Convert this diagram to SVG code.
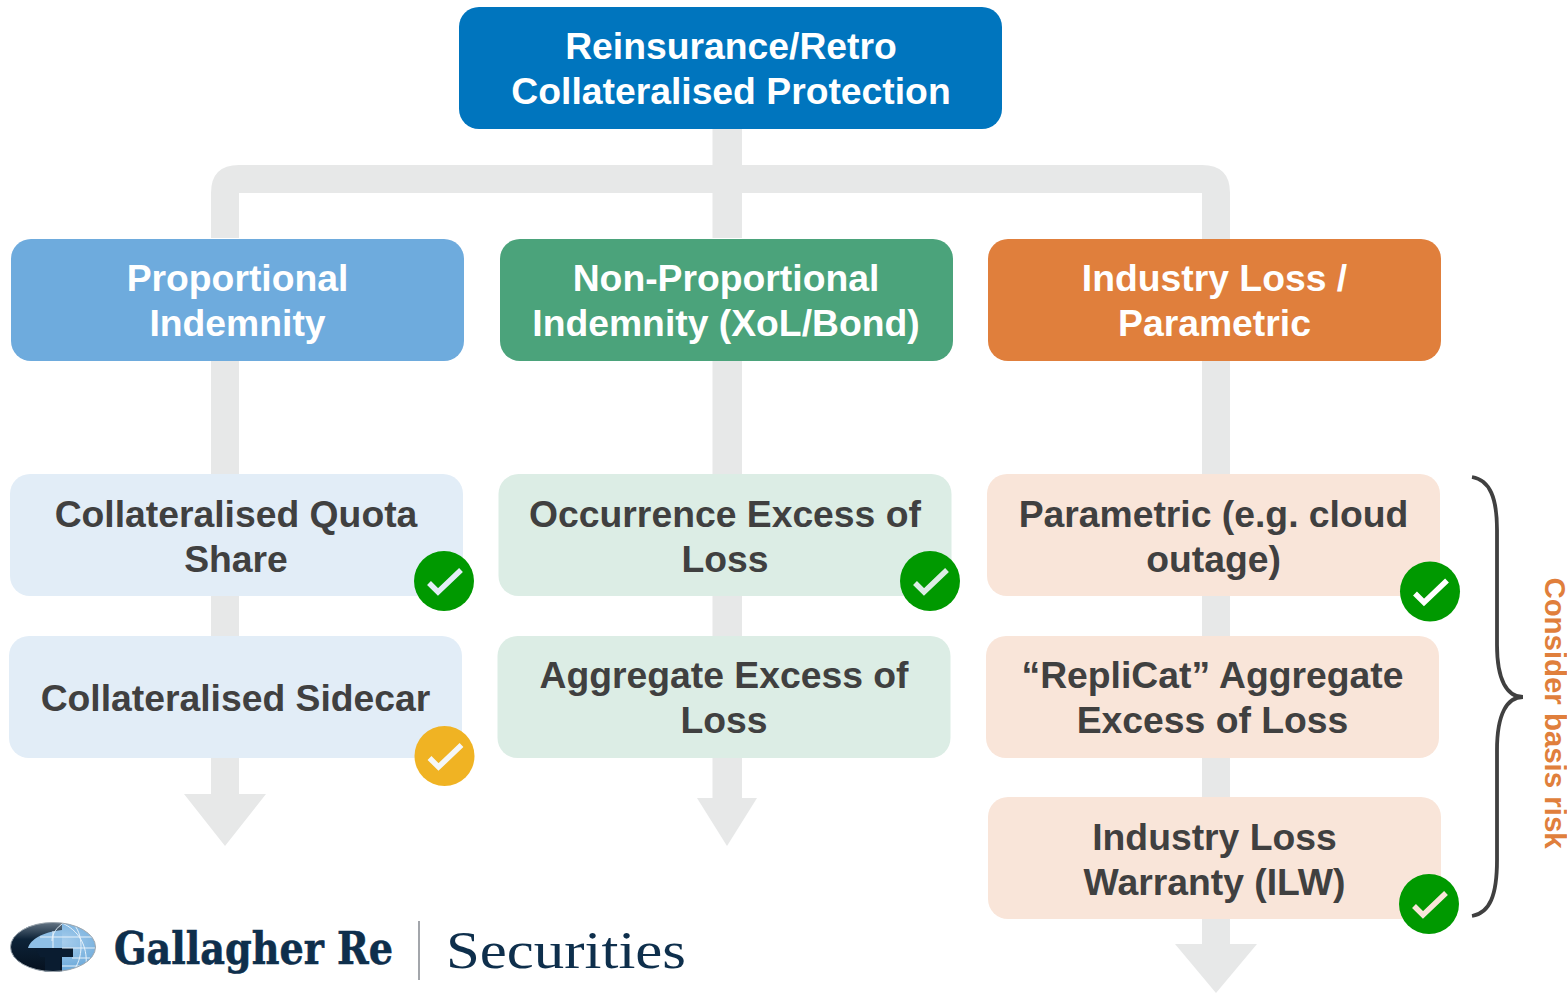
<svg xmlns="http://www.w3.org/2000/svg" width="1567" height="993" viewBox="0 0 1567 993">
<style>
text{font-family:"Liberation Sans",Arial,sans-serif;font-weight:700;font-size:37.300px;text-anchor:middle}
.w{fill:#fff}.d{fill:#404040}
.flow{fill:#e7e8e8}
.chk{fill:none;stroke-width:5.500}
.g{fill:#009900}.y{fill:#f0b323}
</style>
<defs>
<radialGradient id="globe" cx="0.6" cy="0.4" r="0.7"><stop offset="0" stop-color="#a9cfee"/><stop offset="1" stop-color="#5c9fd4"/></radialGradient>
<linearGradient id="dark" x1="0" y1="0" x2="0" y2="1"><stop offset="0" stop-color="#6f7f8e"/><stop offset="0.35" stop-color="#0d2338"/><stop offset="1" stop-color="#050f1c"/></linearGradient>
<clipPath id="oval"><ellipse cx="53" cy="947" rx="42.500" ry="24.500"/></clipPath>
</defs>
<g id="connectors">
<path class="flow" d="M712.500 128H742V165H1202Q1230 165 1230 193V474H1202V193H742V238H712.500V193H239V238H211V193Q211 165 239 165H712.500Z"/>
<path class="flow" d="M211 361H239V794H266L225 846L184 794H211Z"/>
<path class="flow" d="M712.500 361H742V798H757L727 846L697 798H712.500Z"/>
<path class="flow" d="M1202 361H1230V944H1257L1216 993L1175 944H1202Z"/>
</g>
<g id="n-root"><rect x="459" y="7" width="543" height="122" rx="20" fill="#0075be"/><text class="w" x="731" y="59">Reinsurance/Retro</text><text class="w" x="731" y="104">Collateralised Protection</text></g>
<g id="n-prop"><rect x="11" y="239" width="453" height="122" rx="20" fill="#6eabdd"/><text class="w" x="237.500" y="291">Proportional</text><text class="w" x="237.500" y="336">Indemnity</text></g>
<g id="n-nonprop"><rect x="500" y="239" width="453" height="122" rx="20" fill="#4ba37b"/><text class="w" x="726" y="291">Non-Proportional</text><text class="w" x="726" y="336">Indemnity (XoL/Bond)</text></g>
<g id="n-ind"><rect x="988" y="239" width="453" height="122" rx="20" fill="#e07f3c"/><text class="w" x="1214.500" y="291">Industry Loss /</text><text class="w" x="1214.500" y="336">Parametric</text></g>
<g id="n-quota"><rect x="10" y="474" width="453" height="122" rx="20" fill="#e2edf7"/><text class="d" x="236" y="527">Collateralised Quota</text><text class="d" x="236" y="572">Share</text><circle class="g" cx="444" cy="581" r="30"/><path class="chk" stroke="#e2edf7" d="M429 583L438 592L461 570"/></g>
<g id="n-sidecar"><rect x="9" y="636" width="453" height="122" rx="20" fill="#e2edf7"/><text class="d" x="235.500" y="711">Collateralised Sidecar</text><circle class="y" cx="444.500" cy="756" r="30"/><path class="chk" stroke="#f5f7f8" d="M429.500 758L438.500 767L461.500 745"/></g>
<g id="n-occ"><rect x="498.500" y="474" width="453" height="122" rx="20" fill="#dcede5"/><text class="d" x="725" y="527">Occurrence Excess of</text><text class="d" x="725" y="572">Loss</text><circle class="g" cx="930" cy="581" r="30"/><path class="chk" stroke="#dcede5" d="M915 583L924 592L947 570"/></g>
<g id="n-agg"><rect x="497.500" y="636" width="453" height="122" rx="20" fill="#dcede5"/><text class="d" x="724" y="688">Aggregate Excess of</text><text class="d" x="724" y="733">Loss</text></g>
<g id="n-param"><rect x="987" y="474" width="453" height="122" rx="20" fill="#f9e5d9"/><text class="d" x="1213.500" y="527">Parametric (e.g. cloud</text><text class="d" x="1213.500" y="572">outage)</text><circle class="g" cx="1430" cy="591.500" r="30"/><path class="chk" stroke="#ffffff" d="M1415 593.500L1424 602.500L1447 580.500"/></g>
<g id="n-replicat"><rect x="986" y="636" width="453" height="122" rx="20" fill="#f9e5d9"/><text class="d" x="1212.500" y="688">“RepliCat” Aggregate</text><text class="d" x="1212.500" y="733">Excess of Loss</text></g>
<g id="n-ilw"><rect x="988" y="797" width="453" height="122" rx="20" fill="#f9e5d9"/><text class="d" x="1214.500" y="850">Industry Loss</text><text class="d" x="1214.500" y="895">Warranty (ILW)</text><circle class="g" cx="1429" cy="904" r="30"/><path class="chk" stroke="#f9e5d9" d="M1414 906L1423 915L1446 893"/></g>
<g id="brace">
<path fill="none" stroke="#404040" stroke-width="3.800" d="M1472 477C1490 480 1497 498 1497 530V645C1497 680 1507 697 1523 697C1507 697 1497 714 1497 750V860C1497 895 1490 913 1472 916"/>
<text transform="translate(1545 713) rotate(90)" style="font-size:29.400px;fill:#e07f3c">Consider basis risk</text>
</g>
<g id="logo">
<g clip-path="url(#oval)">
<rect x="10" y="922" width="86" height="50" fill="url(#globe)"/>
<path d="M8 920H62V975H8Z" fill="url(#dark)"/>
<path d="M28 948C30 940 42 932 62 930V948Z" fill="#8fbfe6"/>
<path d="M35 948H73V957H60V975H45V957H40Z" fill="#0a1c30"/>
<path fill="none" stroke="#e6f1fa" stroke-width="1" d="M40 937H93M62 948H95M72 958H90M62 966H82M53 931V948M72 923C84 932 84 960 72 972M62 924C54 930 52 936 52 941M62 923C78 930 88 945 86 966"/>
</g>
<ellipse cx="53" cy="947" rx="42.500" ry="24.500" fill="none" stroke="#9fa7ae" stroke-width="1"/>
<text x="114" y="964" textLength="279" lengthAdjust="spacingAndGlyphs" style="font-family:'DejaVu Serif',serif;font-size:44px;fill:#0e2f4c;stroke:#0e2f4c;stroke-width:0.600;text-anchor:start">Gallagher Re</text>
<rect x="418" y="921" width="2" height="59" fill="#a3a6ab"/>
<text x="446" y="968" textLength="240" lengthAdjust="spacingAndGlyphs" style="font-family:'Liberation Serif',serif;font-weight:400;font-size:53px;fill:#0e2f4c;text-anchor:start">Securities</text>
</g>
</svg>
